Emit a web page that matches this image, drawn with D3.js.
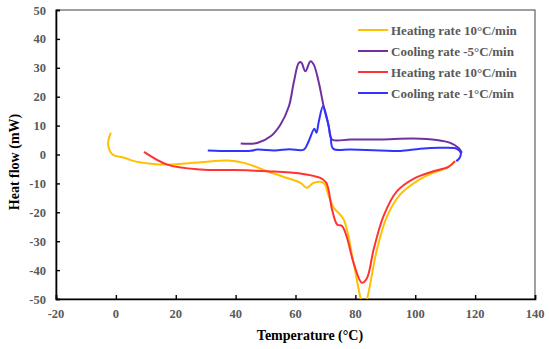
<!DOCTYPE html>
<html>
<head>
<meta charset="utf-8">
<script src="https://cdn.jsdelivr.net/npm/d3@7"></script>
<style>
  body { margin: 0; background: #fff; }
  svg { display: block; font-family: "Liberation Serif", "Times New Roman", serif; }
</style>
</head>
<body>
<svg id="chart" width="550" height="349"></svg>
<script>
// temperature (°C) / heat flow (mW)
var heating1 = [
    [-1.7, 7.6], [-2.6, 3.5], [-1.1, 0], [2.8, -1.1], [6.1, -2.3], [11.7, -3.2], [17.2, -3.5],
    [28.3, -2.7], [37.2, -2.1], [42.8, -2.9], [50.6, -5.8], [58, -8.4], [61.7, -9.8], [63.7, -11.5],
    [66.1, -9.8], [69.4, -9.8], [71.1, -14.4], [72.8, -18.4], [76.1, -22.5], [79.4, -37.5],
    [82.8, -53], [83.9, -50], [87.2, -32.9], [90.6, -21.3], [95, -13.8], [100.6, -9.2],
    [106.1, -6.3], [110.6, -4.6], [113.3, -2.3]
];
var cooling5 = [
    [41.7, 3.8], [47.2, 4.0], [51.7, 6.3], [55, 10.4], [57.8, 16.7], [59.4, 24.8], [61.1, 31.7],
    [61.9, 31.9], [63.3, 28.8], [65, 32.3], [66.1, 31.1], [67.8, 24.8], [69.4, 16.7], [71.1, 9.8],
    [72.2, 5.2], [78.3, 5.2], [88.3, 5.2], [99.4, 5.5], [107.2, 5.0], [111.7, 4.0], [114.4, 2.3],
    [115.6, 0.6]
];
var heating2 = [
    [9.4, 0.9], [17.2, -3.5], [28.3, -5.2], [39.4, -5.4], [50.6, -5.8], [61.7, -6.6], [68.3, -8.1],
    [70.3, -9.8], [72.2, -19], [73.9, -24.2], [75.6, -24.8], [77.2, -28.8], [79.4, -37.5],
    [82.2, -44.4], [83.9, -42.7], [86.1, -32.9], [89.4, -21.3], [93.9, -12.7], [99.4, -8.4],
    [106.1, -5.8], [111.1, -4.3], [113.3, -2.3]
];
var cooling1 = [
    [30.7, 1.4], [38, 1.2], [45, 1.3], [47.2, 1.7], [53, 1.4], [58, 1.8], [62.8, 1.7], [64.4, 4.6],
    [66.3, 8.9], [67, 7.5], [67.8, 11.5], [69.2, 16.7], [70.6, 12.1], [71.7, 6.3], [72.6, 2.0],
    [78.3, 1.7], [88.3, 1.4], [95, 1.2], [101.7, 2.0], [108.3, 2.3], [113.9, 2.0], [115.2, 0.6],
    [114.8, -1.2], [113.7, -2.3]
];

var series = [
    { name: 'Heating rate 10\u00B0C/min', color: '#FFC000', values: heating1 },
    { name: 'Cooling rate -5\u00B0C/min', color: '#7030A0', values: cooling5 },
    { name: 'Heating rate 10\u00B0C/min', color: '#FF3333', values: heating2 },
    { name: 'Cooling rate -1\u00B0C/min', color: '#3333FF', values: cooling1 }
];

var xTicks = [-20, 0, 20, 40, 60, 80, 100, 120, 140];
var yTicks = [-50, -40, -30, -20, -10, 0, 10, 20, 30, 40, 50];

var svg = d3.select('#chart');
var plotL = 56, plotR = 535, plotT = 10, plotB = 299;

var x = d3.scaleLinear().domain([-20, 140]).range([plotL, plotR]);
var y = d3.scaleLinear().domain([-50, 50]).range([plotB, plotT]);

svg.append('clipPath').attr('id', 'plot')
    .append('rect').attr('x', plotL).attr('y', plotT)
    .attr('width', plotR - plotL).attr('height', plotB - plotT);

// frame
svg.append('rect')
    .attr('x', plotL).attr('y', plotT)
    .attr('width', plotR - plotL).attr('height', plotB - plotT)
    .attr('fill', 'none').attr('stroke', '#404040').attr('stroke-width', 1);

// axes, ticks pointing inward
var xAxis = svg.append('g').attr('transform', 'translate(0,' + plotB + ')')
    .call(d3.axisTop(x).tickValues(xTicks).tickSize(4).tickFormat(''));
var yAxis = svg.append('g').attr('transform', 'translate(' + plotL + ',0)')
    .call(d3.axisRight(y).tickValues(yTicks).tickSize(4).tickFormat(''));
[xAxis, yAxis].forEach(function(a) {
    a.select('.domain').attr('stroke', '#000').attr('stroke-width', 1.6);
    a.selectAll('.tick line').attr('stroke', '#000').attr('stroke-width', 1.4);
});

svg.append('g').selectAll('text').data(xTicks).join('text')
    .attr('x', function(d) { return x(d); }).attr('y', 318)
    .attr('text-anchor', 'middle')
    .attr('font-size', 12.5).attr('font-weight', 'bold').attr('fill', '#595959')
    .text(function(d) { return d; });

svg.append('g').selectAll('text').data(yTicks).join('text')
    .attr('x', 46).attr('y', function(d) { return y(d) + 4.5; })
    .attr('text-anchor', 'end')
    .attr('font-size', 12.5).attr('font-weight', 'bold').attr('fill', '#595959')
    .text(function(d) { return d; });

svg.append('text')
    .attr('x', 310).attr('y', 340)
    .attr('text-anchor', 'middle')
    .attr('font-size', 14).attr('font-weight', 'bold').attr('fill', '#000')
    .text('Temperature (\u00B0C)');

svg.append('text')
    .attr('transform', 'translate(19,162) rotate(-90)')
    .attr('text-anchor', 'middle')
    .attr('font-size', 14).attr('font-weight', 'bold').attr('fill', '#000')
    .text('Heat flow (mW)');

// curves
var line = d3.line()
    .x(function(d) { return x(d[0]); })
    .y(function(d) { return y(d[1]); })
    .curve(d3.curveCatmullRom.alpha(0.5));

svg.append('g').attr('clip-path', 'url(#plot)')
    .selectAll('path').data(series).join('path')
    .attr('d', function(s) { return line(s.values); })
    .attr('fill', 'none')
    .attr('stroke', function(s) { return s.color; })
    .attr('stroke-width', 2)
    .attr('stroke-linejoin', 'round');

// legend
var legend = svg.append('g').selectAll('g').data(series).join('g')
    .attr('transform', function(s, i) { return 'translate(358,' + (30 + i * 21) + ')'; });
legend.append('line')
    .attr('x1', 0).attr('x2', 30)
    .attr('stroke', function(s) { return s.color; }).attr('stroke-width', 2);
legend.append('text')
    .attr('x', 33).attr('y', 4.5)
    .attr('font-size', 13).attr('font-weight', 'bold').attr('fill', '#595959')
    .text(function(s) { return s.name; });
</script>
</body>
</html>
